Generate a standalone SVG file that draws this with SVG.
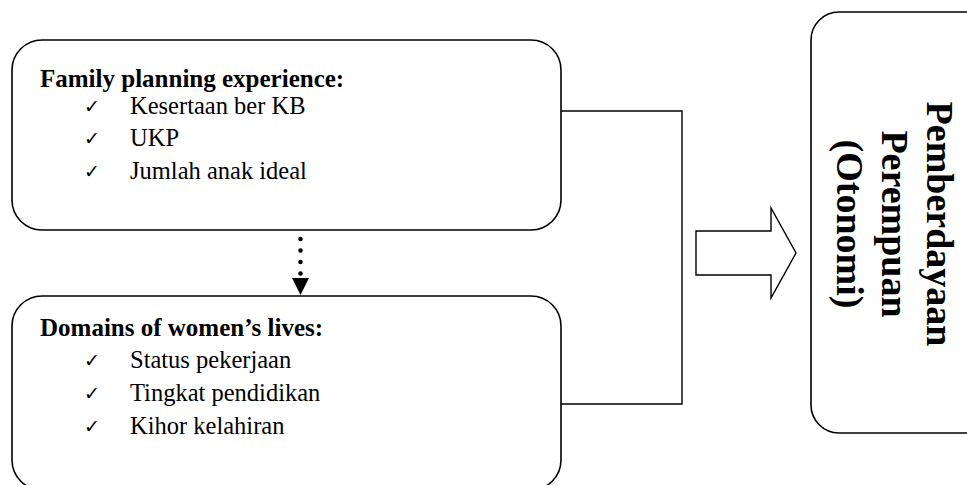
<svg xmlns="http://www.w3.org/2000/svg" width="967" height="485" viewBox="0 0 967 485">
  <style>
    .box { fill: #ffffff; stroke: #000000; stroke-width: 1.6; }
    .conn { fill: none; stroke: #000000; stroke-width: 1.4; }
    .hdr { font-family: "Liberation Serif", "Times New Roman", serif; font-weight: bold; font-size: 25px; fill: #000; }
    .item { font-family: "Liberation Serif", "Times New Roman", serif; font-size: 24.5px; fill: #000; }
    .chk { font-family: "DejaVu Sans", sans-serif; font-size: 19px; fill: #000; }
    .big { font-family: "Liberation Serif", "Times New Roman", serif; font-weight: bold; font-size: 38px; fill: #000; }
  </style>
  <defs>
    <marker id="tri" markerUnits="userSpaceOnUse" markerWidth="18" markerHeight="18" refX="17" refY="8.5" orient="auto">
      <path d="M0,0 L17,8.5 L0,17 Z" fill="#000"/>
    </marker>
  </defs>
  <rect width="967" height="485" fill="#ffffff"/>

  <g id="connectors">
    <polyline class="conn" points="561,111 682,111 682,404 561,404"/>
    <line x1="300.5" y1="216" x2="300.5" y2="295" stroke="#000" stroke-width="4.6" stroke-linecap="round" stroke-dasharray="0 11.5" marker-end="url(#tri)"/>
    <polygon class="conn" points="696,231 771,231 771,208 796,253 771,298 771,275 696,275"/>
  </g>

  <g id="node-family-planning">
    <rect class="box" x="12" y="40" width="549" height="190" rx="30" ry="30"/>
    <text class="hdr" x="40" y="87">Family planning experience:</text>
    <text class="chk" x="84" y="113">✓</text>
    <text class="item" x="130" y="114">Kesertaan ber KB</text>
    <text class="chk" x="84" y="145">✓</text>
    <text class="item" x="130" y="146">UKP</text>
    <text class="chk" x="84" y="178">✓</text>
    <text class="item" x="130" y="179">Jumlah anak ideal</text>
  </g>

  <g id="node-domains">
    <rect class="box" x="12" y="296" width="549" height="194" rx="30" ry="30"/>
    <text class="hdr" x="40" y="336">Domains of women’s lives:</text>
    <text class="chk" x="84" y="367">✓</text>
    <text class="item" x="130" y="368">Status pekerjaan</text>
    <text class="chk" x="84" y="400">✓</text>
    <text class="item" x="130" y="401">Tingkat pendidikan</text>
    <text class="chk" x="84" y="433">✓</text>
    <text class="item" x="130" y="434">Kihor kelahiran</text>
  </g>

  <g id="node-pemberdayaan">
    <rect class="box" x="811" y="12" width="182" height="421" rx="28" ry="28"/>
    <g transform="translate(927,224) rotate(90)">
      <text class="big" x="0" y="0" text-anchor="middle">Pemberdayaan</text>
      <text class="big" x="0" y="45" text-anchor="middle">Perempuan</text>
      <text class="big" x="0" y="90" text-anchor="middle">(Otonomi)</text>
    </g>
  </g>
</svg>
